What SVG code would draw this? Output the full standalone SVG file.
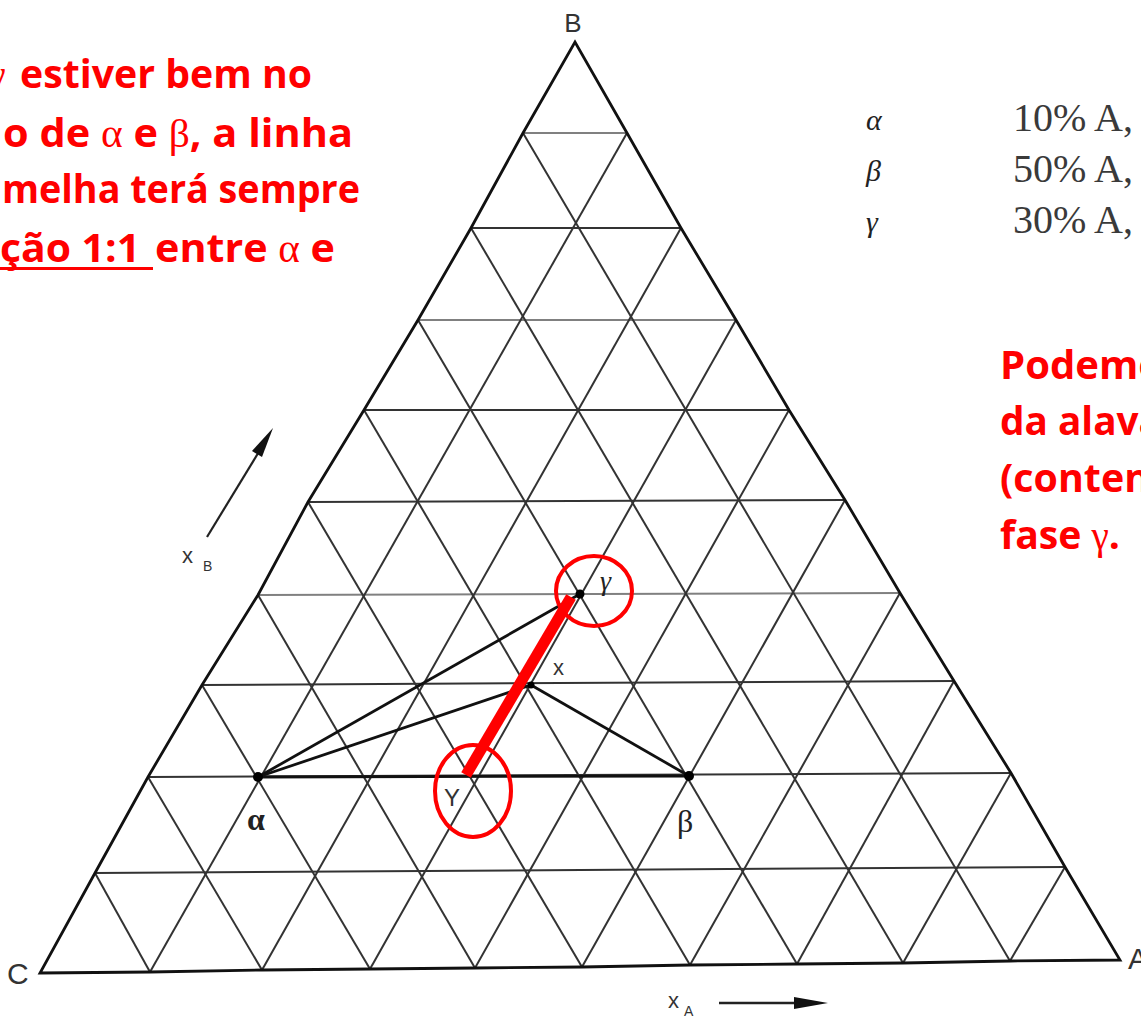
<svg xmlns="http://www.w3.org/2000/svg" width="1141" height="1018" viewBox="0 0 1141 1018">
<style>
.grid{stroke:#333;stroke-width:2;fill:none}
.gridl{stroke:#808080;stroke-width:2;fill:none}
.edge{stroke:#111;stroke-width:2.8;fill:none;stroke-linejoin:miter}
.tie{stroke:#111;stroke-width:2.8;fill:none}
.lbl{font-family:"Liberation Sans",Arial,sans-serif;fill:#333}
.gr{font-family:"Liberation Serif","Times New Roman",serif;fill:#222}
.leg{font-family:"Liberation Serif","Times New Roman",serif;fill:#3a3a3a;font-size:40px}
.red{font-family:"Open Sans","Noto Sans",sans-serif;font-weight:bold;font-size:40px;fill:#ff0000}
.redg{font-family:"Liberation Serif","Times New Roman",serif;font-weight:normal}
.ring{fill:none;stroke:#ff0000;stroke-width:4}
</style>
<rect width="1141" height="1018" fill="#fff"/>

<g id="grid">
<line class="grid" x1="95" y1="873" x2="1065" y2="867"/>
<line class="grid" x1="148" y1="777" x2="1011" y2="773"/>
<line class="grid" x1="202" y1="685" x2="954" y2="681"/>
<line class="gridl" x1="258" y1="595" x2="900" y2="593"/>
<line class="grid" x1="308" y1="502" x2="845" y2="500"/>
<line class="grid" x1="364" y1="410" x2="789" y2="410"/>
<line class="gridl" x1="418" y1="320" x2="736" y2="320"/>
<line class="grid" x1="471" y1="228" x2="681" y2="228"/>
<line class="gridl" x1="523" y1="133" x2="627" y2="133"/>
<line class="grid" x1="150" y1="972" x2="627" y2="133"/>
<line class="grid" x1="262" y1="970" x2="681" y2="228"/>
<line class="grid" x1="370" y1="969" x2="736" y2="320"/>
<line class="grid" x1="475" y1="968" x2="789" y2="410"/>
<line class="grid" x1="582" y1="967" x2="845" y2="500"/>
<line class="grid" x1="690" y1="965" x2="900" y2="593"/>
<line class="grid" x1="797" y1="964" x2="954" y2="681"/>
<line class="grid" x1="903" y1="963" x2="1011" y2="773"/>
<line class="grid" x1="1010" y1="961" x2="1065" y2="867"/>
<line class="grid" x1="150" y1="972" x2="95" y2="873"/>
<line class="grid" x1="262" y1="970" x2="148" y2="777"/>
<line class="grid" x1="370" y1="969" x2="202" y2="685"/>
<line class="grid" x1="475" y1="968" x2="258" y2="595"/>
<line class="grid" x1="582" y1="967" x2="308" y2="502"/>
<line class="grid" x1="690" y1="965" x2="364" y2="410"/>
<line class="grid" x1="797" y1="964" x2="418" y2="320"/>
<line class="grid" x1="903" y1="963" x2="471" y2="228"/>
<line class="grid" x1="1010" y1="961" x2="523" y2="133"/>
</g>

<g id="triangle">
<polygon class="edge" points="40,973 150,972 262,970 370,969 475,968 582,967 690,965 797,964 903,963 1010,961 1120,960 1065,867 1011,773 954,681 900,593 845,500 789,410 736,320 681,228 627,133 575,42 523,133 471,228 418,320 364,410 308,502 258,595 202,685 148,777 95,873"/>
<text class="lbl" x="573" y="32" font-size="26" text-anchor="middle">B</text>
<text class="lbl" x="7" y="984" font-size="30">C</text>
<text class="lbl" x="1128" y="969" font-size="30">A</text>
</g>

<g id="axis-xB">
<line x1="207" y1="537" x2="260" y2="450" stroke="#222" stroke-width="2.2"/>
<polygon points="273,428 262,457 252,451" fill="#111"/>
<text class="lbl" x="182" y="563" font-size="22">x</text>
<text class="lbl" x="203" y="571" font-size="14">B</text>
</g>

<g id="axis-xA">
<line x1="719" y1="1003" x2="800" y2="1003" stroke="#222" stroke-width="2.4"/>
<polygon points="828,1003 794,997 794,1009" fill="#111"/>
<text class="lbl" x="668" y="1008" font-size="22">x</text>
<text class="lbl" x="684" y="1016" font-size="14">A</text>
</g>

<g id="connectors">
<line class="tie" x1="258" y1="777" x2="689" y2="776" stroke-width="3.4"/>
<line class="tie" x1="258" y1="777" x2="580" y2="594"/>
<line class="tie" x1="258" y1="777" x2="531" y2="685"/>
<line class="tie" x1="531" y1="685" x2="689" y2="776"/>
<line id="red-line" x1="466" y1="775" x2="571" y2="597" stroke="#ff0000" stroke-width="11"/>
</g>

<g id="pt-alpha">
<circle cx="258" cy="777" r="5" fill="#000"/>
<text class="gr" x="247" y="830" font-size="32" font-weight="bold">α</text>
</g>
<g id="pt-beta">
<circle cx="689" cy="776" r="5" fill="#000"/>
<text class="gr" x="677" y="832" font-size="32">β</text>
</g>
<g id="pt-gamma">
<circle cx="580" cy="594" r="4.5" fill="#000"/>
<text class="gr" x="600" y="590" font-size="28" font-style="italic">γ</text>
<ellipse class="ring" cx="594" cy="591" rx="38" ry="35"/>
</g>
<g id="pt-x">
<circle cx="531" cy="685" r="3.5" fill="#000"/>
<text class="lbl" x="553" y="675" font-size="22">x</text>
</g>
<g id="pt-gamma-lower">
<text class="lbl" x="444" y="806" font-size="24">Y</text>
<ellipse class="ring" cx="473" cy="791" rx="38" ry="46"/>
</g>

<g id="legend">
<text class="gr" x="866" y="130" font-size="30" font-style="italic" fill="#333">α</text>
<text class="gr" x="866" y="181" font-size="30" font-style="italic" fill="#333">β</text>
<text class="gr" x="866" y="232" font-size="30" font-style="italic" fill="#333">γ</text>
<text class="leg" x="1013" y="131">10% A,</text>
<text class="leg" x="1013" y="182">50% A,</text>
<text class="leg" x="1013" y="233">30% A,</text>
</g>

<g id="note-left">
<text class="red" x="-12" y="88"><tspan class="redg">γ</tspan></text>
<text class="red" x="20" y="88" textLength="292" lengthAdjust="spacingAndGlyphs">estiver bem no</text>
<text class="red" x="3" y="147" textLength="350" lengthAdjust="spacingAndGlyphs">o de <tspan class="redg">α</tspan> e <tspan class="redg">β</tspan>, a linha</text>
<text class="red" x="2" y="203" textLength="358" lengthAdjust="spacingAndGlyphs">melha terá sempre</text>
<text class="red" x="0" y="262" textLength="140" lengthAdjust="spacingAndGlyphs">ção 1:1</text>
<text class="red" x="155" y="262" textLength="180" lengthAdjust="spacingAndGlyphs">entre <tspan class="redg">α</tspan> e</text>
<line x1="0" y1="268.5" x2="153" y2="268.5" stroke="#ff0000" stroke-width="3"/>
</g>

<g id="note-right">
<text class="red" x="1000" y="379" textLength="163" lengthAdjust="spacingAndGlyphs">Podemo</text>
<text class="red" x="1000" y="435" textLength="162" lengthAdjust="spacingAndGlyphs">da alava</text>
<text class="red" x="1000" y="492" textLength="150" lengthAdjust="spacingAndGlyphs">(conten</text>
<text class="red" x="1000" y="549" textLength="120" lengthAdjust="spacingAndGlyphs">fase <tspan class="redg">γ</tspan>.</text>
</g>
</svg>
